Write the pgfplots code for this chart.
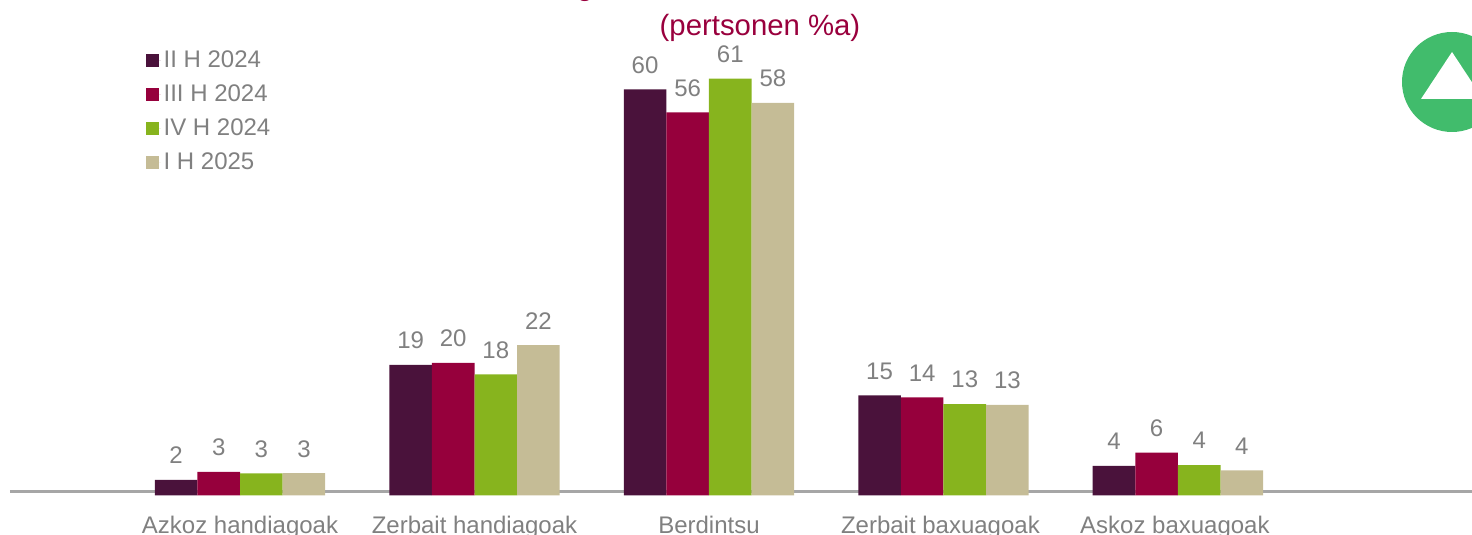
\documentclass[border=0pt]{standalone}
\usepackage{fontspec}
\setmainfont{Liberation Sans}
\usepackage{pgfplots}
\pgfplotsset{compat=1.18}
\definecolor{cA}{HTML}{4A123B}
\definecolor{cB}{HTML}{96003C}
\definecolor{cC}{HTML}{87B41E}
\definecolor{cD}{HTML}{C5BC96}
\definecolor{txt}{HTML}{808080}
\definecolor{ttl}{HTML}{99003D}
\definecolor{gr}{HTML}{41BC6C}
\definecolor{ln}{HTML}{A6A6A6}
\begin{document}
\begin{tikzpicture}[x=0.75pt,y=0.75pt]
\path[use as bounding box] (0,0) rectangle (1472,535);
\clip (0,0) rectangle (1472,535);
\begin{axis}[
  at={(7.5pt,29.625pt)}, anchor=south west,
  scale only axis, width=1096.5pt, height=371.625pt,
  xmin=-0.981, xmax=5.254, ymin=0, ymax=73.2,
  ybar=0pt, bar width=31.95pt,
  axis line style={draw=none},
  clip=false,
  major tick length=0pt,
  ytick=\empty,
  xtick={0,1,2,2.987,3.987},
  xticklabels={Azkoz handiagoak,Zerbait handiagoak,Berdintsu,Zerbait baxuagoak,Askoz baxuagoak},
  xticklabel style={font=\fontsize{18}{22}\selectfont, text=txt, anchor=base, inner sep=0pt, yshift=-28.4pt},
  point meta=explicit symbolic,
  every node near coord/.append style={font=\fontsize{18}{22}\selectfont, text=txt, anchor=base, inner sep=0pt, yshift=12.1pt},
  legend style={at={(0.093,0.903)}, anchor=north west, draw=none, fill=none, inner sep=0pt, outer sep=0pt, row sep=7.5pt,
    font=\fontsize{18}{22}\selectfont, text=txt, cells={anchor=west, inner ysep=0pt}},
  legend cell align=left,
  legend image code/.code={\fill[#1] (0,-4.875pt) rectangle (9.75pt,4.875pt); \path (0,0) -- (11.25pt,0);},
]
\addplot[forget plot, draw=ln, line width=2.25pt, no marks, sharp plot] coordinates {(-0.981,0.59) (5.254,0.59)};
\addplot[ybar, fill=cA, draw=none, nodes near coords] coordinates {(0,2.3)[2] (1,19.3)[19] (2,60)[60] (3,14.8)[15] (4,4.36)[4]};
\addplot[ybar, fill=cB, draw=none, nodes near coords] coordinates {(0,3.5)[3] (1,19.6)[20] (2,56.6)[56] (3,14.5)[14] (4,6.35)[6]};
\addplot[ybar, fill=cC, draw=none, nodes near coords] coordinates {(0,3.25)[3] (1,17.9)[18] (2,61.6)[61] (3,13.5)[13] (4,4.5)[4]};
\addplot[ybar, fill=cD, draw=none, nodes near coords] coordinates {(0,3.3)[3] (1,22.2)[22] (2,58)[58] (3,13.4)[13] (4,3.7)[4]};
\legend{II H 2024,III H 2024,IV H 2024,I H 2025}
\end{axis}
\node[anchor=base, text=ttl, font=\fontsize{22}{26}\selectfont, inner sep=0pt] at (760,535-36) {(pertsonen \%a)};
\node[anchor=base, text=ttl, font=\fontsize{22}{26}\selectfont, inner sep=0pt] at (585,535+4) {g};
\fill[gr] (1452,535-82) circle[radius=50];
\fill[white] (1452,535-52) -- (1421,535-99) -- (1483,535-99) -- cycle;
\end{tikzpicture}
\end{document}
